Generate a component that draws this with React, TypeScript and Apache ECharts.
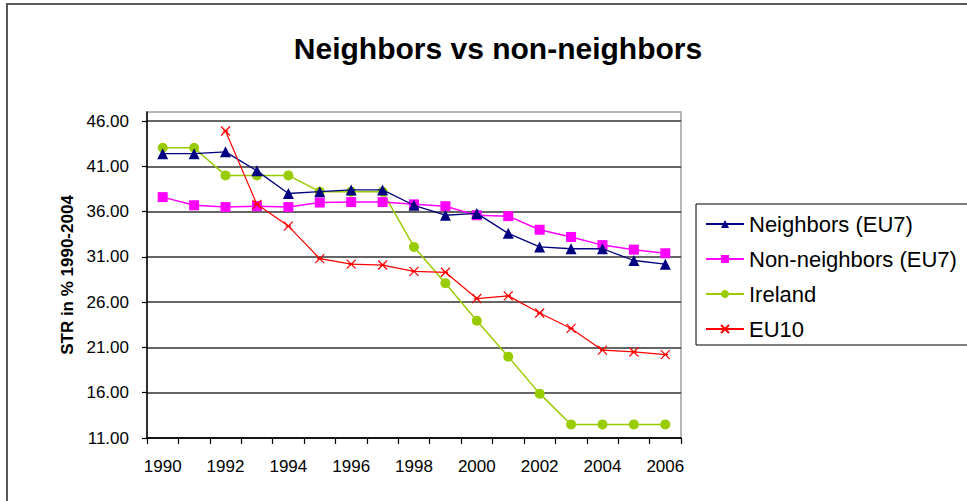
import React, { useEffect, useRef } from "react";
import * as echarts from "echarts";

const years = ["1990","1991","1992","1993","1994","1995","1996","1997","1998","1999","2000","2001","2002","2003","2004","2005","2006"];
const neighbors = [42.4, 42.4, 42.6, 40.5, 38.0, 38.2, 38.4, 38.4, 36.7, 35.6, 35.8, 33.6, 32.1, 31.9, 31.9, 30.6, 30.2];
const nonNeighbors = [37.6, 36.7, 36.5, 36.6, 36.5, 37.0, 37.05, 37.05, 36.8, 36.6, 35.6, 35.5, 34.0, 33.2, 32.3, 31.8, 31.4];
const ireland = [43.05, 43.05, 40.0, 40.0, 40.0, 38.2, 38.2, 38.2, 32.1, 28.1, 23.95, 19.98, 15.9, 12.5, 12.5, 12.5, 12.5];
const eu10 = [null, null, 44.9, 36.8, 34.4, 30.8, 30.2, 30.1, 29.4, 29.3, 26.4, 26.7, 24.8, 23.1, 20.7, 20.5, 20.2];

const FONT = "'Liberation Sans', Arial, sans-serif";

export default function App() {
  const ref = useRef<HTMLDivElement>(null);
  useEffect(() => {
    if (!ref.current) return;
    const chart = echarts.init(ref.current, null, { renderer: "svg" });
    const crossPath = "path://M0,0L10,10M10,0L0,10M2,5L8,5";
    chart.setOption({
      animation: false,
      backgroundColor: "#fff",
      title: {
        text: "Neighbors vs non-neighbors",
        left: 493,
        textAlign: "center",
        top: 28,
        textStyle: { fontFamily: FONT, fontSize: 30, fontWeight: "bold", color: "#000" },
      },
      graphic: [
        {
          type: "rect",
          shape: { x: 7, y: 4, width: 1200, height: 700 },
          style: { fill: "none", stroke: "#595959", lineWidth: 2 },
          silent: true,
        },
      ],
      legend: {
        orient: "vertical",
        left: 696,
        top: 204,
        padding: [8, 60, 4, 9],
        itemWidth: 38,
        itemHeight: 10,
        itemGap: 11,
        borderColor: "#000",
        borderWidth: 1,
        backgroundColor: "#fff",
        textStyle: { fontFamily: FONT, fontSize: 22, color: "#000", lineHeight: 24 },
        data: ["Neighbors (EU7)", "Non-neighbors (EU7)", "Ireland", "EU10"],
      },
      grid: {
        left: 147,
        right: 1000 - 681,
        top: 112,
        bottom: 501 - 438,
        show: true,
        borderColor: "#a0a0a0",
        borderWidth: 1.5,
        backgroundColor: "#fff",
      },
      xAxis: {
        type: "category",
        data: years,
        boundaryGap: true,
        axisLine: { lineStyle: { color: "#000", width: 1.5 } },
        axisTick: { show: true, interval: 0, length: 6, lineStyle: { color: "#000", width: 1.2 } },
        axisLabel: { interval: 1, margin: 20, fontFamily: FONT, fontSize: 17, color: "#000" },
        splitLine: { show: false },
      },
      yAxis: {
        type: "value",
        min: 11,
        max: 47,
        interval: 5,
        name: "STR in % 1990-2004",
        nameLocation: "middle",
        nameGap: 50,
        nameRotate: 90,
        nameTextStyle: { fontFamily: FONT, fontSize: 17, fontWeight: "bold", color: "#000" },
        axisLine: { show: true, lineStyle: { color: "#000", width: 1.5 } },
        axisTick: { show: true, length: 5, lineStyle: { color: "#000", width: 1.2 } },
        axisLabel: {
          margin: 18,
          showMaxLabel: false,
          fontFamily: FONT,
          fontSize: 17,
          color: "#000",
          formatter: (v: number) => (v > 46.5 ? "" : v.toFixed(2)),
        },
        splitLine: { show: true, showMaxLine: false, lineStyle: { color: "#333", width: 1.5 } },
      },
      series: [
        {
          name: "Neighbors (EU7)",
          type: "line",
          data: neighbors,
          symbol: "triangle",
          symbolSize: 11,
          color: "#000080",
          lineStyle: { color: "#000080", width: 1.3 },
          itemStyle: { color: "#000080" },
          z: 4,
        },
        {
          name: "Non-neighbors (EU7)",
          type: "line",
          data: nonNeighbors,
          symbol: "rect",
          symbolSize: 10,
          color: "#FF00FF",
          lineStyle: { color: "#FF00FF", width: 1.5 },
          itemStyle: { color: "#FF00FF" },
          z: 3,
        },
        {
          name: "Ireland",
          type: "line",
          data: ireland,
          symbol: "circle",
          symbolSize: 10,
          color: "#99CC00",
          lineStyle: { color: "#99CC00", width: 1.5 },
          itemStyle: { color: "#99CC00" },
          z: 2,
        },
        {
          name: "EU10",
          type: "line",
          data: eu10,
          symbol: crossPath,
          symbolSize: 9,
          color: "#FF0000",
          lineStyle: { color: "#FF0000", width: 1.2 },
          itemStyle: { color: "none", borderColor: "#FF0000", borderWidth: 1.2 },
          z: 5,
        },
      ],
    });
    return () => chart.dispose();
  }, []);
  return (
    <div style={{ position: "fixed", left: 0, top: 0, width: 967, height: 501, overflow: "hidden", background: "#fff" }}>
      <div ref={ref} style={{ width: 1000, height: 501 }} />
    </div>
  );
}
